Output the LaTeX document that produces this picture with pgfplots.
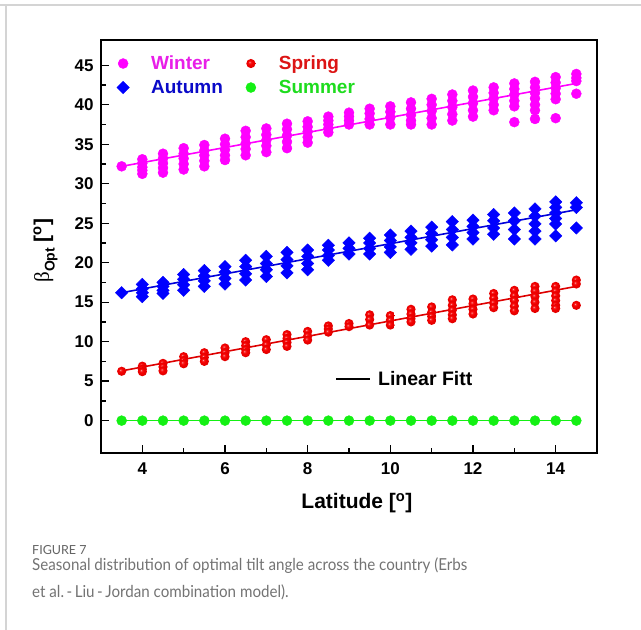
\documentclass[border=0pt]{standalone}
\usepackage{fontspec}
\setmainfont{Liberation Sans}
\newfontfamily\capfont{Lato}
\newfontfamily\greekfont{Liberation Serif}
\usepackage{pgfplots}
\pgfplotsset{compat=1.18}
\definecolor{wint}{RGB}{255,0,255}
\definecolor{winttext}{RGB}{232,30,232}
\definecolor{aut}{RGB}{0,0,255}
\definecolor{auttext}{RGB}{10,10,200}
\definecolor{spr}{RGB}{245,0,0}
\definecolor{sprtext}{RGB}{220,20,20}
\definecolor{sum}{RGB}{20,240,20}
\definecolor{sumtext}{RGB}{30,220,30}
\definecolor{capgray}{RGB}{115,115,115}
\definecolor{figgray}{RGB}{100,100,100}
\definecolor{framegray}{RGB}{212,212,212}
\pgfdeclareradialshading{redballshade}{\pgfqpoint{-8bp}{8bp}}{%
  color(0bp)=(white!70!spr); color(5bp)=(spr!85!white); color(11bp)=(spr);
  color(28bp)=(spr!90!black); color(50bp)=(spr!80!black)}
\pgfdeclareplotmark{redball}{%
  \pgfpathcircle{\pgfpointorigin}{\pgfplotmarksize}%
  \pgfshadepath{redballshade}{0}\pgfusepath{}}
\begin{document}
\begin{tikzpicture}
\path[use as bounding box] (0pt,0pt) rectangle (641pt,630pt);
\draw[framegray, line width=1.3pt] (0pt,625pt) -- (641pt,625pt);
\draw[framegray, line width=1.3pt] (6pt,625pt) -- (6pt,0pt);
\begin{axis}[
  at={(101pt,177pt)}, anchor=south west,
  width=496pt, height=413pt, scale only axis,
  xmin=3, xmax=15, ymin=-4.1, ymax=48.2,
  xtick={4,6,...,14}, ytick={0,5,...,45},
  minor x tick num=1, minor y tick num=1,
  xtick pos=bottom, ytick pos=left,
  tick align=inside,
  major tick length=8pt, minor tick length=5pt,
  axis line style={line width=1.6pt},
  every tick/.style={black, line width=1.3pt},
  /pgf/number format/assume math mode=true,
  ticklabel style={font=\fontsize{17}{17}\selectfont\bfseries},
  xticklabel style={yshift=-6pt},
  yticklabel style={xshift=-4pt},
  xlabel={Latitude [\textsuperscript{o}]},
  xlabel style={at={(axis description cs:0.516,0)}, anchor=north, inner sep=0pt, yshift=-40pt, font=\fontsize{21}{21}\selectfont\bfseries},
  ylabel={{\greekfont\mdseries β}\raisebox{-0.28em}{\fontsize{14}{14}\selectfont Opt} [\textsuperscript{o}]},
  ylabel style={at={(axis description cs:-0.087,0.49)}, anchor=south, inner sep=0pt, font=\fontsize{21}{21}\selectfont\bfseries},
  legend columns=2,
  legend cell align=left,
  legend style={draw=none, fill=none, inner sep=0pt, at={(axis description cs:0.016,0.962)}, anchor=north west,
    font=\fontsize{19}{19}\selectfont\bfseries, column sep=0pt, row sep=9pt,
    /tikz/every even column/.append style={column sep=14pt}, nodes={inner sep=0pt}},
  legend image code/.code={\path[draw=none,fill=none] (-14pt,0pt) (28pt,0pt); \draw[#1] plot coordinates {(0pt,0pt)};},
]
% Winter
\addplot[only marks, mark=*, mark size=5pt, color=wint, mark options={draw=none, fill=wint}] coordinates {
(3.5,32.2)
(4.0,33.1)(4.0,32.6)(4.0,32.1)(4.0,31.7)(4.0,31.25)
(4.5,33.8)(4.5,33.2)(4.5,32.6)(4.5,32.0)(4.5,31.4)
(5.0,34.5)(5.0,33.8)(5.0,33.2)(5.0,32.5)(5.0,31.8)
(5.5,34.9)(5.5,34.2)(5.5,33.6)(5.5,32.9)(5.5,32.2)
(6.0,35.7)(6.0,35.0)(6.0,34.3)(6.0,33.6)(6.0,33.0)
(6.5,36.7)(6.5,35.9)(6.5,35.1)(6.5,34.4)(6.5,33.6)
(7.0,37.0)(7.0,36.2)(7.0,35.5)(7.0,34.8)(7.0,34.0)
(7.5,37.6)(7.5,36.9)(7.5,36.1)(7.5,35.3)(7.5,34.5)
(8.0,37.9)(8.0,37.2)(8.0,36.6)(8.0,35.9)(8.0,35.2)
(8.5,38.5)(8.5,38.0)(8.5,37.5)(8.5,37.0)(8.5,36.5)
(9.0,39.0)(9.0,38.5)(9.0,38.0)(9.0,37.5)
(9.5,39.5)(9.5,38.9)(9.5,38.2)(9.5,37.5)
(10.0,39.8)(10.0,39.1)(10.0,38.4)(10.0,37.5)
(10.5,40.3)(10.5,39.5)(10.5,38.7)(10.5,38.0)(10.5,37.5)
(11.0,40.75)(11.0,40.0)(11.0,39.2)(11.0,38.3)(11.0,37.5)
(11.5,41.3)(11.5,40.5)(11.5,39.7)(11.5,38.8)(11.5,38.0)
(12.0,41.8)(12.0,41.0)(12.0,40.2)(12.0,39.3)(12.0,38.5)
(12.5,42.2)(12.5,41.5)(12.5,40.8)(12.5,40.0)(12.5,39.3)
(13.0,42.7)(13.0,42.0)(13.0,41.3)(13.0,40.5)(13.0,39.8)(13.0,37.8)
(13.5,42.9)(13.5,42.2)(13.5,41.5)(13.5,40.8)(13.5,40.0)(13.5,39.3)(13.5,38.2)
(14.0,43.5)(14.0,42.8)(14.0,42.1)(14.0,41.4)(14.0,40.7)(14.0,38.3)
(14.5,43.9)(14.5,43.4)(14.5,43.0)(14.5,41.4)
};
\addlegendentry{\textcolor{winttext}{Winter}}
% Spring
\addplot[only marks, mark=redball, mark size=4.6pt, color=spr] coordinates {
(3.5,6.25)
(4.0,6.9)(4.0,6.5)(4.0,6.2)
(4.5,7.25)(4.5,6.8)(4.5,6.3)
(5.0,8.1)(5.0,7.6)(5.0,7.2)
(5.5,8.6)(5.5,8.0)(5.5,7.5)
(6.0,9.2)(6.0,8.6)(6.0,8.1)
(6.5,10.0)(6.5,9.5)(6.5,9.0)(6.5,8.6)
(7.0,10.25)(7.0,9.6)(7.0,9.0)
(7.5,10.9)(7.5,10.4)(7.5,9.9)(7.5,9.4)
(8.0,11.3)(8.0,10.7)(8.0,10.2)
(8.5,12.0)(8.5,11.6)(8.5,11.2)
(9.0,12.3)(9.0,11.9)
(9.5,13.4)(9.5,12.8)(9.5,12.1)
(10.0,13.3)(10.0,12.7)(10.0,12.1)
(10.5,14.1)(10.5,13.5)(10.5,12.9)(10.5,12.5)
(11.0,14.4)(11.0,13.7)(11.0,13.2)(11.0,12.7)
(11.5,15.3)(11.5,14.6)(11.5,14.0)(11.5,13.4)(11.5,12.9)
(12.0,15.4)(12.0,14.8)(12.0,14.1)(12.0,13.5)
(12.5,16.1)(12.5,15.5)(12.5,14.9)(12.5,14.3)
(13.0,16.5)(13.0,15.8)(13.0,15.2)(13.0,14.5)(13.0,13.9)
(13.5,17.0)(13.5,16.4)(13.5,15.7)(13.5,15.0)(13.5,14.2)
(14.0,17.0)(14.0,16.4)(14.0,15.8)(14.0,15.2)(14.0,14.6)(14.0,14.2)
(14.5,17.8)(14.5,17.3)(14.5,14.6)
};
\addlegendentry{\textcolor{sprtext}{Spring}}
% Autumn
\addplot[only marks, mark=square*, mark size=4.4pt, color=aut, mark options={rotate=45, draw=none, fill=aut}] coordinates {
(3.5,16.2)
(4.0,17.25)(4.0,16.7)(4.0,16.2)(4.0,15.7)
(4.5,17.5)(4.5,17.0)(4.5,16.5)(4.5,16.1)
(5.0,18.5)(5.0,17.9)(5.0,17.2)(5.0,16.5)
(5.5,19.0)(5.5,18.3)(5.5,17.7)(5.5,17.0)
(6.0,19.5)(6.0,18.8)(6.0,18.0)(6.0,17.3)
(6.5,20.3)(6.5,19.5)(6.5,18.6)(6.5,17.8)
(7.0,20.8)(7.0,19.9)(7.0,19.1)(7.0,18.25)
(7.5,21.3)(7.5,20.4)(7.5,19.6)(7.5,18.7)
(8.0,21.6)(8.0,20.8)(8.0,19.9)(8.0,19.1)
(8.5,22.2)(8.5,21.6)(8.5,20.9)(8.5,20.3)
(9.0,22.5)(9.0,21.8)(9.0,21.1)
(9.5,23.1)(9.5,22.5)(9.5,21.8)(9.5,21.1)
(10.0,23.5)(10.0,22.8)(10.0,22.0)(10.0,21.3)
(10.5,24.0)(10.5,23.2)(10.5,22.5)(10.5,21.7)
(11.0,24.5)(11.0,23.7)(11.0,22.9)(11.0,22.1)
(11.5,25.2)(11.5,24.2)(11.5,23.2)(11.5,22.25)
(12.0,25.4)(12.0,24.6)(12.0,23.8)(12.0,23.0)
(12.5,26.1)(12.5,25.3)(12.5,24.4)(12.5,23.6)
(13.0,26.3)(13.0,25.3)(13.0,24.2)(13.0,23.0)
(13.5,26.8)(13.5,25.9)(13.5,24.9)(13.5,24.0)(13.5,23.0)
(14.0,27.7)(14.0,27.0)(14.0,26.3)(14.0,25.6)(14.0,24.9)(14.0,23.4)
(14.5,27.6)(14.5,27.0)(14.5,24.4)
};
\addlegendentry{\textcolor{auttext}{Autumn}}
% Summer
\addplot[only marks, mark=*, mark size=5pt, color=sum, mark options={draw=none, fill=sum}] coordinates {
(3.5,0)(4.0,0)(4.5,0)(5.0,0)(5.5,0)(6.0,0)(6.5,0)(7.0,0)(7.5,0)(8.0,0)(8.5,0)(9.0,0)
(9.5,0)(10.0,0)(10.5,0)(11.0,0)(11.5,0)(12.0,0)(12.5,0)(13.0,0)(13.5,0)(14.0,0)(14.5,0)
};
\addlegendentry{\textcolor{sumtext}{Summer}}
% Linear fits
\addplot[wint, line width=1.6pt, forget plot] coordinates {(3.5,32.2)(14.5,42.7)};
\addplot[aut!85!black, line width=1.6pt, forget plot] coordinates {(3.5,16.2)(14.5,26.7)};
\addplot[spr!90!black, line width=1.6pt, forget plot] coordinates {(3.5,6.3)(14.5,17.0)};
\addplot[sum, line width=1.6pt, forget plot] coordinates {(3.5,0)(14.5,0)};
\draw[black, line width=1.6pt] (axis cs:8.69,5.28) -- (axis cs:9.51,5.28);
\node[anchor=base west, inner sep=0pt, font=\fontsize{19.5}{19.5}\selectfont\bfseries] at (axis cs:9.70,4.42) {Linear Fitt};
\end{axis}
\node[anchor=base west, inner sep=0pt, text=figgray, font=\capfont\fontsize{12.5}{12.5}\selectfont] at (32pt,75pt) {FIGURE 7};
\node[anchor=base west, inner sep=0pt, text=capgray, font=\capfont\fontsize{16.5}{16.5}\selectfont] at (32pt,59pt) {\scalebox{0.918}[1]{Seasonal distribution of optimal tilt angle across the country (Erbs}};
\node[anchor=base west, inner sep=0pt, text=capgray, font=\capfont\fontsize{16.5}{16.5}\selectfont] at (32pt,32.5pt) {\scalebox{0.918}[1]{et al.\,-\,Liu\,-\,Jordan combination model).}};
\end{tikzpicture}
\end{document}
